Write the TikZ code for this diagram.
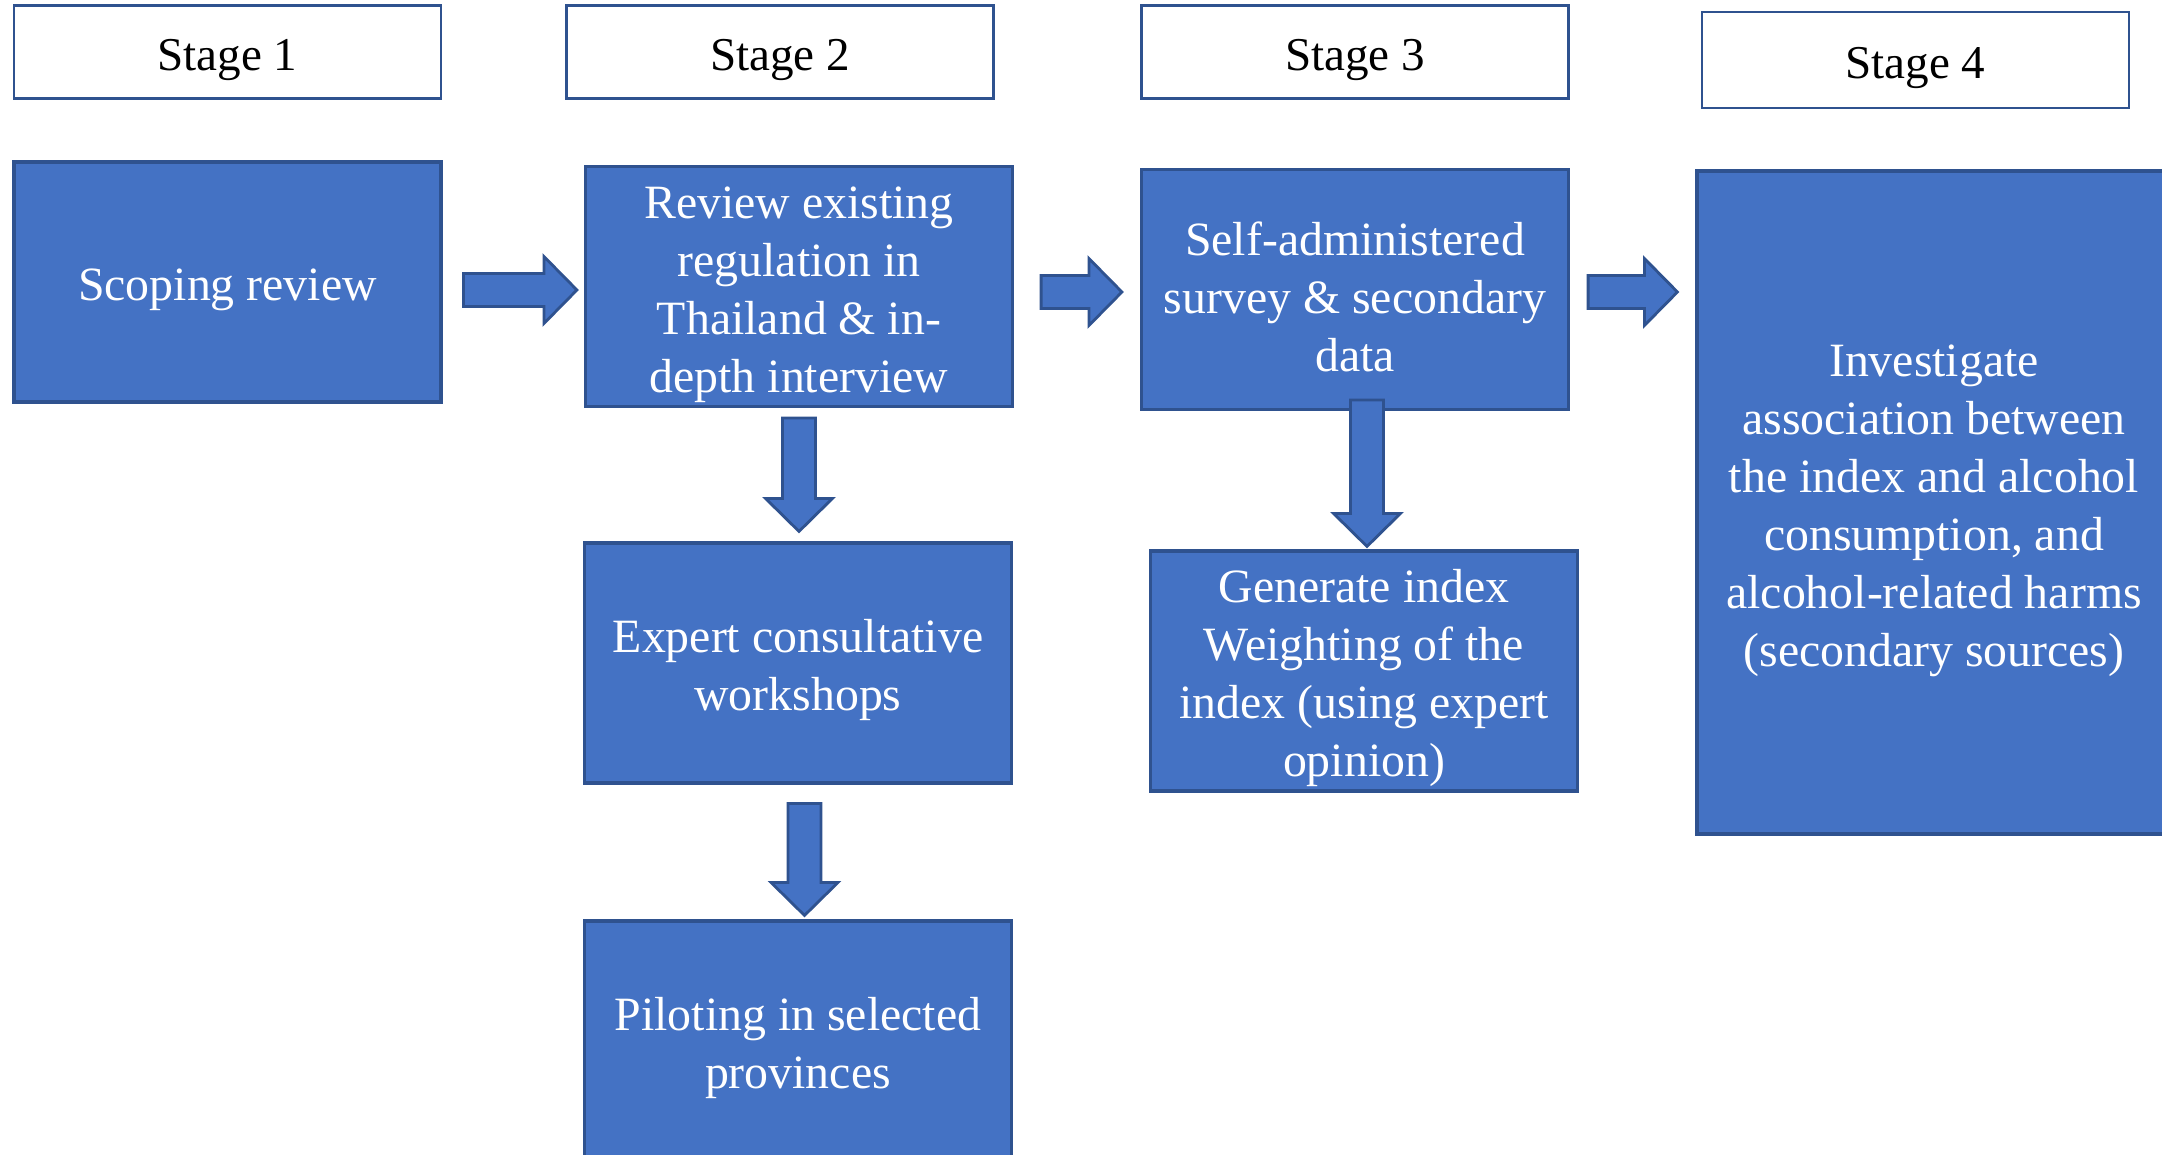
\documentclass[tikz,border=0pt]{standalone}
\usepackage{fontspec}
\setmainfont{Liberation Serif}
\usetikzlibrary{calc}
\definecolor{boxblue}{HTML}{4472C4}
\definecolor{edgeblue}{HTML}{2F528F}

% top strut, pushes the text down a little as in the original slide
\newcommand{\tstrut}{\rule{0pt}{4.8mm}}

% block arrows: tail -> tip
\newcommand{\harrow}[2]{%
  \draw[blockarrow] let \p1=(#1), \p2=(#2) in
    (\x1,\y1+1.65mm) -- (\x2-3.3mm,\y1+1.65mm) -- (\x2-3.3mm,\y1+3.35mm) -- (\x2,\y1)
    -- (\x2-3.3mm,\y1-3.35mm) -- (\x2-3.3mm,\y1-1.65mm) -- (\x1,\y1-1.65mm) -- cycle;}
\newcommand{\varrow}[2]{%
  \draw[blockarrow] let \p1=(#1), \p2=(#2) in
    (\x1-1.65mm,\y1) -- (\x1-1.65mm,\y2+3.3mm) -- (\x1-3.35mm,\y2+3.3mm) -- (\x1,\y2)
    -- (\x1+3.35mm,\y2+3.3mm) -- (\x1+1.65mm,\y2+3.3mm) -- (\x1+1.65mm,\y1) -- cycle;}

\begin{document}
\begin{tikzpicture}[
    stagebox/.style={draw=edgeblue, line width=0.8pt, fill=white, minimum width=4.27cm,
      minimum height=0.93cm, inner sep=0pt, font=\fontsize{13.4}{16}\selectfont,
      execute at begin node={\tstrut}},
    stepbox/.style={draw=edgeblue, line width=0.9pt, fill=boxblue, text=white, align=center,
      minimum width=4.27cm, minimum height=2.4cm, inner sep=0pt,
      font=\fontsize{13.6}{16.5}\selectfont},
    blockarrow/.style={draw=edgeblue, fill=boxblue, line width=0.8pt, line join=miter}]
    \clip (0,0) rectangle (21.62,-11.55);

    % Stage headers
    \node[stagebox] (stage1) at (2.275,-0.52) {Stage 1};
    \node[stagebox] (stage2) at (7.80,-0.52) {Stage 2};
    \node[stagebox] (stage3) at (13.55,-0.52) {Stage 3};
    \node[stagebox, minimum height=0.96cm] (stage4) at (19.155,-0.60) {Stage 4};

    % Stage 1
    \node[stepbox] (scoping) at (2.275,-2.82) {\tstrut Scoping review};

    % Stage 2
    \node[stepbox] (review) at (7.99,-2.865) {\tstrut Review existing\\regulation in\\Thailand \& in-\\depth interview};
    \node[stepbox] (expert) at (7.98,-6.63) {\tstrut Expert consultative\\workshops};
    \node[stepbox] (piloting) at (7.98,-10.41) {\tstrut Piloting in selected\\provinces};

    % Stage 3
    \node[stepbox] (survey) at (13.55,-2.895) {\tstrut Self-administered\\survey \& secondary\\data};
    \node[stepbox] (index) at (13.64,-6.71) {\tstrut Generate index\\Weighting of the\\index (using expert\\opinion)};

    % Stage 4
    \node[stepbox, minimum width=4.74cm, minimum height=6.63cm] (investigate) at (19.34,-5.025)
      {\tstrut Investigate\\association between\\the index and alcohol\\consumption, and\\alcohol-related harms\\(secondary sources)};

    % Arrows
    \harrow{[xshift=2.1mm,yshift=-0.8mm]scoping.east}{[xshift=-0.7mm]review.west};
    \harrow{[xshift=2.7mm,yshift=-0.55mm]review.east}{[xshift=-1.8mm]survey.west};
    \harrow{[xshift=1.8mm,yshift=-0.25mm]survey.east}{[xshift=-1.8mm]investigate.west};
    \varrow{[yshift=-1mm]review.south}{[yshift=1mm]expert.north};
    \varrow{[xshift=0.65mm,yshift=-1.9mm]expert.south}{[yshift=0.4mm]piloting.north};
    \varrow{[xshift=1.2mm,yshift=1.1mm]survey.south}{[yshift=0.3mm]index.north};
\end{tikzpicture}
\end{document}
